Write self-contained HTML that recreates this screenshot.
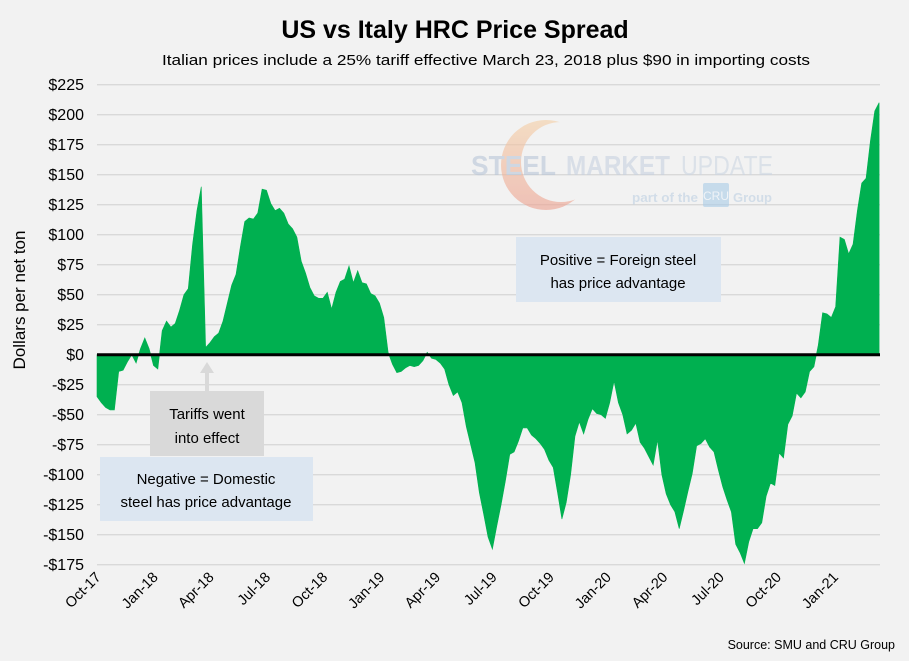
<!DOCTYPE html>
<html><head><meta charset="utf-8"><style>
body{margin:0;background:#f2f2f2;}
svg{display:block;font-family:"Liberation Sans",sans-serif;}
</style></head><body>
<svg id="chart" width="909" height="661" viewBox="0 0 909 661">
<rect x="0" y="0" width="909" height="661" fill="#f2f2f2"/>
<text x="455" y="38" text-anchor="middle" font-size="25" font-weight="bold" fill="#000">US vs Italy HRC Price Spread</text>
<text x="486" y="65" text-anchor="middle" font-size="15" fill="#000" textLength="648" lengthAdjust="spacingAndGlyphs">Italian prices include a 25% tariff effective March 23, 2018 plus $90 in importing costs</text>
<g id="grid"></g>
<g id="logo" opacity="0.6">
  <defs>
    <linearGradient id="lg" x1="0" y1="0" x2="0" y2="1"><stop offset="0" stop-color="#f5cfa5"/><stop offset="1" stop-color="#eda08f"/></linearGradient>
    <mask id="cres"><rect x="480" y="100" width="140" height="140" fill="#fff"/><circle cx="561" cy="162" r="40" fill="#000"/></mask>
  </defs>
  <circle cx="546" cy="165" r="45" fill="url(#lg)" mask="url(#cres)"/>
  <text x="471" y="175" font-size="28" font-weight="bold" fill="#b9c6d8" textLength="85" lengthAdjust="spacingAndGlyphs">STEEL</text>
  <text x="566" y="175" font-size="28" font-weight="bold" fill="#c7d2e0" textLength="104" lengthAdjust="spacingAndGlyphs">MARKET</text>
  <text x="681" y="175" font-size="28" fill="#ccd6e3" textLength="92" lengthAdjust="spacingAndGlyphs">UPDATE</text>
  <text x="632" y="202" font-size="13" font-weight="bold" fill="#bdd0e3" textLength="66" lengthAdjust="spacingAndGlyphs">part of the</text>
  <rect x="703" y="183" width="26" height="24" rx="2" fill="#a9cce8"/>
  <text x="716" y="200" text-anchor="middle" font-size="12" fill="#eef5fb">CRU</text>
  <text x="733" y="202" font-size="13" font-weight="bold" fill="#bdd0e3" textLength="39" lengthAdjust="spacingAndGlyphs">Group</text>
</g>
<g id="series"></g>
<g id="axes"></g>
<text transform="translate(25,300) rotate(-90)" text-anchor="middle" font-size="17" fill="#000">Dollars per net ton</text>
<g>
  <line x1="207" y1="391" x2="207" y2="372" stroke="#d9d9d9" stroke-width="4"/>
  <polygon points="200,373 214,373 207,362" fill="#d9d9d9"/>
  <rect x="150" y="391" width="114" height="65" fill="#d9d9d9"/>
  <text x="207" y="419" text-anchor="middle" font-size="15" fill="#000">Tariffs went</text>
  <text x="207" y="443" text-anchor="middle" font-size="15" fill="#000">into effect</text>
</g>
<g>
  <rect x="100" y="457" width="213" height="64" fill="#dce6f1"/>
  <text x="206" y="484" text-anchor="middle" font-size="15" fill="#000">Negative = Domestic</text>
  <text x="206" y="507" text-anchor="middle" font-size="15" fill="#000">steel has price advantage</text>
</g>
<g>
  <rect x="516" y="237" width="205" height="65" fill="#dce6f1"/>
  <text x="618" y="265" text-anchor="middle" font-size="15" fill="#000">Positive = Foreign steel</text>
  <text x="618" y="288" text-anchor="middle" font-size="15" fill="#000">has price advantage</text>
</g>
<text x="895" y="649" text-anchor="end" font-size="12.5" fill="#000">Source: SMU and CRU Group</text>
</svg>
<script>
const startDate = "2017-09-25";
const spreadValues = [-35,-40,-44,-46,-46,-14,-13,-6,0,-7,5,14,5,-9,-12,20,28,23,26,37,50,55,92,120,140,6,10,15,18,28,43,58,67,90,111,114,113,118,138,137,126,120,122,118,109,105,98,78,68,56,49,47,47,52,38,52,61,63,74,60,70,60,59,51,49,43,31,2,-8,-15,-14,-11,-9,-10,-9,-5,2,-3,-4,-7,-12,-25,-34,-31,-40,-60,-75,-90,-115,-133,-152,-162,-143,-125,-105,-83,-81,-72,-61,-61,-67,-70,-74,-79,-88,-94,-115,-137,-123,-100,-68,-56,-66,-54,-45,-49,-50,-53,-40,-22,-40,-50,-66,-63,-57,-73,-78,-85,-92,-71,-100,-116,-125,-131,-145,-130,-114,-99,-76,-74,-70,-77,-81,-96,-110,-121,-131,-158,-165,-174,-156,-145,-145,-140,-118,-107,-109,-82,-86,-58,-51,-32,-36,-31,-14,-10,8,35,34,31,40,98,96,84,92,120,143,147,178,203,210];
const yTicks = [225,200,175,150,125,100,75,50,25,0,-25,-50,-75,-100,-125,-150,-175];
const xTickLabels = ["Oct-17","Jan-18","Apr-18","Jul-18","Oct-18","Jan-19","Apr-19","Jul-19","Oct-19","Jan-20","Apr-20","Jul-20","Oct-20","Jan-21"];
const xTickDates = ["2017-10-01","2018-01-01","2018-04-01","2018-07-01","2018-10-01","2019-01-01","2019-04-01","2019-07-01","2019-10-01","2020-01-01","2020-04-01","2020-07-01","2020-10-01","2021-01-01"];

const NS="http://www.w3.org/2000/svg";
const left=97, right=880, weekPx=4.345;
const yTop=84.7, yPerUnit=1.2;
const x=w=>left+w*weekPx;
const y=v=>yTop+(225-v)*yPerUnit;
const weeksFrom=d=>(new Date(d)-new Date(startDate))/(7*86400000);
function mk(tag,attrs,parent){const e=document.createElementNS(NS,tag);for(const k in attrs)e.setAttribute(k,attrs[k]);parent.appendChild(e);return e;}

const grid=document.getElementById('grid');
const axes=document.getElementById('axes');
yTicks.forEach(v=>{
  if(v!==0){const l=mk('line',{x1:left,x2:right,y1:y(v),y2:y(v),stroke:'#d9d9d9','stroke-width':1.3},grid);
  
  }
  const t=mk('text',{x:84,y:y(v)+5.5,'text-anchor':'end','font-size':16,fill:'#000'},axes);
  t.textContent=(v<0?'-$':'$')+Math.abs(v);
  
  
});
xTickLabels.forEach((lab,i)=>{
  const px=x(weeksFrom(xTickDates[i]));
  const t=mk('text',{x:px+1,y:578,'text-anchor':'end','font-size':14.5,fill:'#000',transform:`rotate(-45 ${px+1} 578)`},axes);
  t.textContent=lab;
  
  
});
const series=document.getElementById('series');
let d=`M${x(0)},${y(0)}`;
spreadValues.forEach((v,i)=>{d+=` L${x(i).toFixed(2)},${y(v).toFixed(2)}`;});
d+=` L${x(spreadValues.length-1)},${y(0)} Z`;
const area=mk('path',{d:d,fill:'#00b050',stroke:'#00b050','stroke-width':0.6},series);


const zl=mk('line',{x1:left,x2:right,y1:y(0),y2:y(0),stroke:'#000','stroke-width':3},axes);


</script>
</body></html>
